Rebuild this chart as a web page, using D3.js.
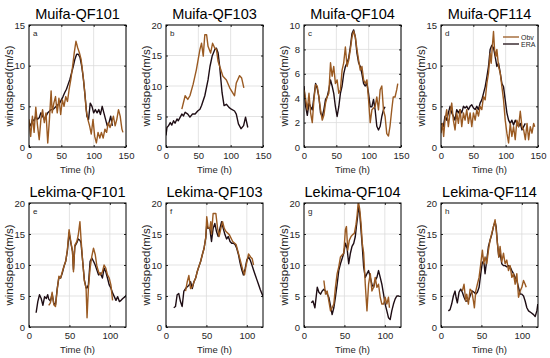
<!DOCTYPE html>
<html>
<head>
<meta charset="utf-8">
<script src="https://cdn.jsdelivr.net/npm/d3@7"></script>
<style>
  body { margin: 0; background: #fff; }
  text { font-family: "Liberation Sans", Arial, sans-serif; }
</style>
</head>
<body>
<div id="chart"></div>
<script>
// time (h), windspeed (m/s)
const obvMuifa101 = [[0,3.4],[2.6,1.3],[5.3,3.8],[7.9,1.8],[10.5,4.9],[13.2,2.6],[15.8,0.9],[18.4,3.4],[21,4.6],[23.7,3],[26.3,4.2],[29,0.5],[31.6,3.4],[34.2,6.9],[35.8,4.2],[38.4,5.4],[41,6.2],[43.7,4.2],[46.3,6],[49,4],[51.6,5.8],[54.2,5],[56.8,6.2],[59.5,5.6],[62.1,7.1],[64.7,8.3],[67.4,9.9],[70,11.6],[72.6,13],[75.3,12.2],[77.9,11.6],[80.5,10.8],[83.2,9.1],[85.8,7.1],[88.4,4.6],[91,3.4],[93.7,2.6],[96.3,1.6],[99,3.4],[101.6,1.3],[104.2,0.5],[106.8,1.8],[109.5,1.1],[112,1.8],[114.7,1.1],[117.4,2.2],[120,1.8],[122.6,3],[125.3,2.4],[127.9,3],[130.5,3.8],[133.2,2.6],[135.8,3.4],[138.4,4.6],[141,3.8],[143.7,2.2],[145.3,1.8]];
const eraMuifa101 = [[0,3],[2.6,2.6],[5.3,3.4],[7.9,3.2],[10.5,3.8],[13.2,3.4],[15.8,3.6],[18.4,4.2],[21,3.8],[23.7,3.4],[26.3,3.8],[29,4.2],[31.6,4.4],[34.2,4.6],[36.8,4.6],[39.5,4.8],[42.1,5],[44.7,5.2],[47.4,5.4],[50,5.8],[52.6,6.2],[55.3,6.7],[57.9,7.1],[60.5,7.7],[63.2,8.3],[65.8,9.1],[68.4,9.9],[71,10.8],[73.7,11.4],[76.3,11.4],[78.9,11],[81.6,9.9],[84.2,8.3],[86.8,6.2],[89.5,3.8],[92.1,3.4],[94.7,5.4],[97.4,5],[100,4.2],[102.6,4.6],[105.3,4.2],[107.9,4.6],[110.5,4],[113.2,5],[115.8,4.2],[118.4,3.4],[121,2.6],[123.7,3],[126.3,3.8],[128.9,2.6]];

const obvMuifa103 = [[24.5,6.2],[29.6,8.4],[33.7,7.8],[37,8.4],[42,10.3],[47,12.7],[52.5,16],[55,17],[57.6,14.9],[60,18.4],[62.8,18.4],[65,16.5],[69,15.4],[72,17],[75.5,16.2],[78,16],[80.6,14],[84.7,12.7],[88,11.6],[93.4,11],[98.5,9.7],[106,8.4],[108.7,10.5],[113.8,11.7],[117,11.3],[120.4,9.7]];
const eraMuifa103 = [[0,1.9],[1.5,3.2],[4,3.5],[6.6,4],[9,3.6],[11.7,4.3],[14,3.9],[17,4.6],[19,4.3],[22,4.9],[24.5,5.4],[27,5.1],[29.6,5.7],[33.7,5.4],[37,4.9],[41,5.4],[45,5.4],[49,5.9],[52.5,6.2],[55,6.8],[60,8.4],[65,11],[68,13.2],[71.4,14.9],[75.5,16],[78,16.2],[80.6,15.4],[83,13.2],[86.7,8.9],[89.8,6.8],[93.4,7],[97.4,6.5],[101,6.2],[106,5.9],[108.7,5.4],[112,3.8],[116,3],[120,3.5],[123,4.9],[126.5,3.2]];

const obvMuifa104 = [[0,4.7],[2.6,3.9],[5.1,3.05],[7.7,4.4],[10.2,2.8],[12.8,2],[15.4,3.9],[17.9,5.1],[20.5,5],[23,4.1],[25.6,3.05],[28.2,2.2],[30.7,2.6],[33.3,3.6],[35.8,4.1],[38.4,4.4],[41,6.9],[43.5,5.8],[46,6.6],[48.6,5.2],[51.2,5.5],[53.8,4.4],[56.3,4.7],[58.9,6.3],[61.4,6.9],[64,8.2],[66.6,6.6],[69.1,7.1],[71.7,8],[74.2,9],[76.8,9.5],[79.4,9],[81.9,8],[84.5,7.1],[87,6.3],[89.6,6.6],[92.2,5.5],[94.7,5.2],[97.3,5.5],[99.8,3.9],[102.4,2],[105,3.05],[107.5,3.2],[110,3.3],[112.6,4.1],[115.2,3.05],[117.8,4.7],[120.3,5],[122.9,3.05],[125.4,2.5],[128,1.1],[130.6,0.9],[133,1.7],[135.7,3.05],[138,4.1],[140.8,4.1],[143.4,4.7],[145,5.2]];
const eraMuifa104 = [[0,5],[2.6,3.3],[5.1,2.6],[7.7,3.6],[10.2,3.3],[12.8,3.05],[15.4,4.1],[17.9,5.2],[20.5,4.8],[23,4.1],[25.6,2.8],[28.2,2.5],[30.7,3.05],[33.3,3.9],[35.8,4.1],[38.4,4.7],[41,5.5],[43.5,5],[46,4.4],[48.6,3.3],[51.2,2.5],[53.8,3.3],[56.3,4.4],[58.9,5],[61.4,6],[64,6.6],[66.6,6.9],[69.1,7.3],[71.7,8.2],[74.2,9.3],[76.8,9.6],[79.4,9],[81.9,7.7],[84.5,6.9],[87,6.6],[89.6,6],[92.2,5.2],[94.7,5],[97.3,5.2],[99.8,4.4],[102.4,3.3],[105,3.3],[107.5,3.9],[110,3.05],[112.6,1.7],[115.2,1.4],[117.8,1.7],[120.3,2.5],[122.9,3.05],[125.4,3.3]];

const obvMuifa114 = [[0,1.7],[2.1,2.9],[4.1,1.3],[6.2,3.3],[8.8,4.6],[11.4,2.5],[14,4.2],[16.6,5.4],[19.1,3.3],[21.7,2.1],[24.3,4.2],[26.9,2.9],[29.5,4.6],[32.1,2.5],[34.7,4.2],[37.2,3.3],[39.8,4.6],[42.4,2.9],[45,4.2],[47.6,2.5],[50.2,4.2],[52.8,3.3],[55.4,4.6],[57.9,3.8],[60.5,5],[63.1,4.6],[65.7,6.2],[68.3,5.8],[70.9,7.8],[73.5,9.1],[76,11.5],[77.6,10.3],[79.7,12.7],[81.2,14.2],[82.8,12],[84.8,11.1],[86.4,12],[89,9.9],[91.6,9.1],[94.2,7.4],[96.7,5.8],[99.3,3.3],[101.9,1.7],[104.5,0.5],[107.1,2.9],[109.6,1.3],[112.2,2.5],[114.8,0.9],[117.4,3.3],[120,2.5],[122.6,4.4],[125.2,2.5],[127.8,2.1],[130.4,0.9],[133,2.9],[135.5,0.9],[138.1,2.5],[140.7,1.7],[143.3,2.9],[144.9,2.5]];
const eraMuifa114 = [[0,2.9],[3.6,2.5],[6.2,3.8],[8.8,3.3],[11.4,4.2],[14,5],[16.6,4.2],[19.1,3.8],[21.7,3.3],[24.3,4.6],[26.9,4.2],[29.5,4.6],[32.1,4.2],[34.7,5],[37.2,4.8],[39.8,5],[42.4,4.6],[45,5],[47.6,5.2],[50.2,4.8],[52.8,4.6],[55.4,5],[57.9,4.6],[60.5,5.4],[63.1,5.8],[65.7,6.6],[68.3,7.4],[70.9,8.6],[73.5,9.9],[76,12],[78.6,12.5],[81.2,12.2],[83.8,11.1],[86.4,9.9],[89,10.3],[91.6,9.1],[94.2,7.8],[96.7,7.4],[99.3,5.8],[101.9,4.2],[104.5,3.3],[107.1,2.9],[109.6,3.3],[112.2,2.7],[114.8,3.3],[117.4,2.9],[120,2.5],[122.6,2.9],[125.2,2.1],[127.8,2.5],[130.4,2.9]];

const obvLekima101 = [[24.4,3.5],[26.5,3.9],[28.6,5.6],[30.7,3.6],[32.8,3.3],[34.9,6],[37,8.2],[39.1,7.9],[41.2,8.9],[43.3,9.8],[45.4,10.6],[47.5,12.5],[49.6,15.7],[51.7,13.8],[53.8,12.2],[55,8.9],[56.7,13.2],[59.2,13.8],[60.9,14.8],[63,17],[64.3,14.3],[66.4,10.6],[68.5,7.4],[70.6,6.3],[71.8,1.5],[73.5,6.3],[75.6,9.5],[77.7,11.4],[79.8,12.7],[81.9,11.7],[84,9.8],[86.1,8.9],[88.2,8.4],[90.8,8.9],[92.9,10],[95,9.5],[97.1,8.4],[99.2,7.9],[101.3,6.8],[103.4,4.3]];
const eraLekima101 = [[8.8,2.3],[10.9,4.1],[13,5.2],[15.1,4.6],[17.2,3.5],[19.3,4.9],[21.4,4.6],[23.1,5.2],[24.4,4.5],[26.5,4.2],[28.6,5.3],[30.7,3.8],[32.8,3.6],[34.9,6.2],[37,8],[39.1,7.9],[41.2,8.7],[43.3,9.8],[45.4,10.6],[47.5,12.3],[49.6,15.2],[51.7,13.6],[53.8,12.2],[55,9.3],[56.7,13],[59.2,13.6],[60.9,14.2],[63,14],[64.3,13.6],[66.4,10.6],[68.5,7.6],[70.6,6.3],[71.8,6.3],[73.5,6.8],[75.6,10.6],[77.7,11.1],[79.8,10.6],[81.9,10],[84,9.2],[86.1,8.4],[88.2,8.7],[90.8,7.9],[92.9,9.5],[95,8.9],[97.1,7.9],[99.2,6.8],[101.3,6.3],[103.4,5.5],[105.5,4.9],[107.6,4.3],[109.7,4.9],[111.8,4.1],[113.9,4.3],[116,4.6],[118.9,4.9],[121,5.2]];

const obvLekima103 = [[24.2,5.8],[26.3,7.3],[28.3,8.3],[30.4,6.2],[32.5,6.5],[34.6,7.3],[36.7,7.9],[38.8,9],[40.8,9.8],[42.9,10.6],[45,11.7],[47.1,12.7],[49.2,14.4],[50.4,17.8],[52.1,16],[54.2,15.9],[55.4,17],[56.3,15],[58.3,18.3],[61.7,18.3],[63.8,15.9],[65.8,14.6],[67.9,15.9],[70,17],[72.1,15.9],[74.2,15.4],[78.3,14.9],[82.5,13.8],[86.7,13.3],[90.8,11.3],[95,9.2],[97.1,8.4],[99.2,10],[102.1,11.8],[104.6,11.3],[106.7,11],[108.3,10]];
const eraLekima103 = [[9.6,3.1],[11.7,3.3],[13.8,5.2],[15.8,5.4],[17.9,4.1],[20,3.3],[22.1,5.8],[24.2,6.2],[26.3,6.5],[28.3,6.7],[30.4,7.3],[32.5,6.2],[34.6,7.3],[36.7,7.9],[38.8,9],[40.8,9.8],[42.9,10.6],[45,11.7],[47.1,12.7],[49.2,14.4],[50.4,16.5],[52.1,15.9],[54.2,15.9],[56.3,13.8],[58.3,15.9],[60.4,16.7],[62.5,15.4],[64.6,14.6],[66.7,15.9],[68.8,17],[70.8,15.9],[72.9,14.9],[75,14.2],[77.1,14.6],[79.2,13.8],[81.3,13.5],[83.3,13.5],[85.4,13.3],[87.5,12.7],[89.6,11.7],[91.7,10.3],[93.8,9.2],[95.8,8.4],[97.9,9.4],[100,10.8],[102.1,11.3],[104.2,10.8],[106.3,10],[108.3,9.2],[110.4,8.4],[112.5,7.6],[114.6,6.8],[116.7,6],[119.2,5.2],[121.3,4.6]];

const obvLekima104 = [[24.6,7.5],[26.6,5.3],[28.7,5.8],[30.7,4.2],[32.8,2.6],[34.8,3.1],[36.9,3.7],[38.9,6.4],[41,8.6],[43,9.7],[45.1,11.3],[47.1,11.6],[49.2,11.9],[51.2,15.7],[52.5,16.2],[54.1,12.4],[56.1,14],[58.2,14.6],[60.2,14.9],[62.3,15.1],[64.3,16.5],[65.6,17.9],[67.2,20.3],[68.9,19],[70.5,16.8],[72.1,13.5],[73.8,11.9],[75.8,6.9],[77.9,2.6],[79.9,6.9],[82,8.6],[84,5.8],[86.1,6.4],[88.1,8],[90.2,6.4],[92.2,6.9],[94.3,4.8],[96.3,3.7],[98.4,3.7],[100.4,4.8],[102.5,3.7],[104.5,4.8],[105.7,3.1]];
const eraLekima104 = [[9,3.9],[11.1,4.2],[13.5,3.1],[16.4,6.4],[18.4,5.6],[20.5,5.3],[22.5,5.8],[24.6,6.1],[26.6,5.8],[28.7,5.3],[30.7,4.8],[32.8,3.4],[34.8,2],[36.9,3.1],[38.9,4.8],[41,6.9],[43,9.1],[45.1,10.2],[47.1,11],[49.2,11.9],[51.2,13.5],[53.3,12.7],[55.3,10.2],[57.4,11.9],[59.4,13],[61.5,13.5],[63.5,14.6],[64.8,16.2],[66.4,17.9],[67.6,19.5],[68.9,18.4],[70.5,15.7],[72.1,13],[73.8,9.7],[75.8,8],[77.9,8.6],[79.9,9.1],[82,8],[84,6.9],[86.1,6.4],[88.1,7.5],[90.2,8],[92.2,9.1],[94.3,8],[96.3,6.9],[98.4,5.3],[100.4,3.7],[102.5,2.6],[104.5,1.5],[106.6,1.2],[108.6,2.6],[110.7,3.7],[112.7,4.5],[114.8,5],[118,5]];

const obvLekima114 = [[26.4,5.8],[28.5,6.9],[30.6,4.2],[31.8,5.3],[33.9,3.7],[36,6.1],[38,5.8],[40.1,4.2],[41.3,3.1],[43,5.8],[45,6.9],[47.1,8],[49.2,10.2],[51.2,12.4],[52.9,10.2],[54.5,11.3],[56.6,10.2],[58.7,12.4],[60.7,14],[62.8,15.1],[64.9,16.2],[66.9,17.3],[68.2,15.7],[69.8,13.5],[71.5,11.3],[73.1,13],[75.2,10.5],[77.3,11.9],[79.3,10.2],[81.4,10.8],[83.5,9.1],[85.5,9.9],[87.6,8],[89.7,8.6],[91.7,6.9],[93.8,8.6],[95.9,4.8],[97.9,5.8],[100,6.4],[102.1,7.5],[104.1,6.9],[105.4,6.4]];
const eraLekima114 = [[9.1,2.6],[11.2,2.8],[13.2,3.7],[15.3,5],[17.4,5.8],[18.6,4.8],[20.2,3.9],[22.3,5.6],[24.4,6.1],[26.4,5.6],[28.5,4.8],[30.6,4.2],[32.6,4.2],[34.7,4.5],[36.8,5.3],[38.8,5.8],[40.9,5.6],[43,5.3],[45,5.6],[47.1,6.4],[49.2,8.6],[51.2,10.5],[53.3,10.2],[54.5,8.6],[56.6,10.8],[58.7,13],[60.7,14],[62.8,14.9],[64.9,16.2],[66.9,17],[68.2,16.2],[69.8,13.5],[71.5,11.3],[73.1,11.9],[75.2,10.2],[77.3,9.9],[79.3,9.9],[81.4,9.7],[83.5,9.9],[85.5,9.7],[87.6,9.1],[89.7,8.6],[91.7,8],[93.8,7.5],[95.9,6.4],[97.9,5.3],[100,5.3],[102.1,5],[104.1,4.2],[106.2,3.1],[108.3,2.6],[111.6,2.3],[114.5,2],[116.5,1.7],[118.6,2.6],[119.8,3.7]];

const titles = ['Muifa-QF101','Muifa-QF103','Muifa-QF104','Muifa-QF114',
                'Lekima-QF101','Lekima-QF103','Lekima-QF104','Lekima-QF114'];
const tags = ['a','b','c','d','e','f','g','h'];
const xTicksMuifa = [0, 50, 100, 150];
const xTicksLekima = [0, 50, 100];
const yTicks15 = [0, 5, 10, 15];
const yTicks20 = [0, 5, 10, 15, 20];
const yTicks10 = [0, 2, 4, 6, 8, 10];
const seriesNames = ['Obv', 'ERA'];

const panels = [
  {obv: obvMuifa101, era: eraMuifa101, xMax: 150, xTicks: xTicksMuifa, yMax: 15, yTicks: yTicks15},
  {obv: obvMuifa103, era: eraMuifa103, xMax: 150, xTicks: xTicksMuifa, yMax: 20, yTicks: yTicks20},
  {obv: obvMuifa104, era: eraMuifa104, xMax: 150, xTicks: xTicksMuifa, yMax: 10, yTicks: yTicks10},
  {obv: obvMuifa114, era: eraMuifa114, xMax: 150, xTicks: xTicksMuifa, yMax: 15, yTicks: yTicks15},
  {obv: obvLekima101, era: eraLekima101, xMax: 120, xTicks: xTicksLekima, yMax: 20, yTicks: yTicks20},
  {obv: obvLekima103, era: eraLekima103, xMax: 120, xTicks: xTicksLekima, yMax: 20, yTicks: yTicks20},
  {obv: obvLekima104, era: eraLekima104, xMax: 120, xTicks: xTicksLekima, yMax: 20, yTicks: yTicks20},
  {obv: obvLekima114, era: eraLekima114, xMax: 120, xTicks: xTicksLekima, yMax: 20, yTicks: yTicks20}
];

const obvColor = '#9a5a22';
const eraColor = '#1e0d14';

const svg = d3.select('#chart').append('svg')
  .attr('width', 550)
  .attr('height', 358);

const colLeft = [29, 166, 304, 441];
const plotW = 97;
const rows = [{top: 25, bottom: 147}, {top: 203, bottom: 327}];

panels.forEach((p, k) => {
  const row = rows[Math.floor(k / 4)];
  const left = colLeft[k % 4];
  const x = d3.scaleLinear().domain([0, p.xMax]).range([left, left + plotW]);
  const y = d3.scaleLinear().domain([0, p.yMax]).range([row.bottom, row.top]);
  const g = svg.append('g').attr('class', 'panel');

  g.append('clipPath').attr('id', 'clip' + k)
    .append('rect')
    .attr('x', left).attr('y', row.top)
    .attr('width', plotW).attr('height', row.bottom - row.top);

  // grid
  g.selectAll('.vgrid').data(p.xTicks).enter().append('line')
    .attr('x1', d => x(d)).attr('x2', d => x(d))
    .attr('y1', row.top).attr('y2', row.bottom)
    .attr('stroke', '#dcdcdc').attr('stroke-width', 0.8);
  g.selectAll('.hgrid').data(p.yTicks).enter().append('line')
    .attr('x1', left).attr('x2', left + plotW)
    .attr('y1', d => y(d)).attr('y2', d => y(d))
    .attr('stroke', '#dcdcdc').attr('stroke-width', 0.8);

  const line = d3.line().x(d => x(d[0])).y(d => y(d[1]));
  const lines = g.append('g').attr('clip-path', 'url(#clip' + k + ')');
  lines.append('path').datum(p.era)
    .attr('d', line).attr('fill', 'none')
    .attr('stroke', eraColor).attr('stroke-width', 1.4)
    .attr('stroke-linejoin', 'round');
  lines.append('path').datum(p.obv)
    .attr('d', line).attr('fill', 'none')
    .attr('stroke', obvColor).attr('stroke-width', 1.4)
    .attr('stroke-linejoin', 'round');

  // axes, ticks pointing inward (also mirrored on top / right like a boxed plot)
  const xAxis = g.append('g').attr('transform', `translate(0,${row.bottom})`)
    .call(d3.axisBottom(x).tickValues(p.xTicks).tickSize(-2).tickPadding(5));
  const yAxis = g.append('g').attr('transform', `translate(${left},0)`)
    .call(d3.axisLeft(y).tickValues(p.yTicks).tickSize(-2).tickPadding(4));
  const xTop = g.append('g').attr('transform', `translate(0,${row.top})`)
    .call(d3.axisTop(x).tickValues(p.xTicks).tickSize(-2).tickFormat(''));
  const yRight = g.append('g').attr('transform', `translate(${left + plotW},0)`)
    .call(d3.axisRight(y).tickValues(p.yTicks).tickSize(-2).tickFormat(''));
  [xAxis, yAxis, xTop, yRight].forEach(a => {
    a.select('.domain').remove();
    a.selectAll('text').attr('font-size', 9.5).attr('fill', '#262626')
      .attr('font-family', '"Liberation Sans", Arial, sans-serif');
    a.selectAll('line').attr('stroke', '#262626');
  });

  g.append('rect')
    .attr('x', left).attr('y', row.top)
    .attr('width', plotW).attr('height', row.bottom - row.top)
    .attr('fill', 'none').attr('stroke', '#000').attr('stroke-width', 1);

  g.append('text')
    .attr('x', left + plotW / 2).attr('y', row.top - 6)
    .attr('text-anchor', 'middle').attr('font-size', 14.5)
    .text(titles[k]);

  g.append('text')
    .attr('x', left + 4).attr('y', row.top + 11)
    .attr('font-size', 8).attr('fill', '#262626')
    .text(tags[k]);

  g.append('text')
    .attr('x', left + plotW / 2).attr('y', row.bottom + 26)
    .attr('text-anchor', 'middle').attr('font-size', 9.5).attr('fill', '#262626')
    .text('Time (h)');

  g.append('text')
    .attr('transform', `translate(${left - 16},${(row.top + row.bottom) / 2}) rotate(-90)`)
    .attr('text-anchor', 'middle').attr('font-size', 11.5).attr('fill', '#262626')
    .text('windspeed(m/s)');

  if (k === 3) {
    const legend = g.append('g');
    seriesNames.forEach((name, i) => {
      const ly = row.top + 12 + i * 7;
      legend.append('line')
        .attr('x1', left + plotW - 35).attr('x2', left + plotW - 19)
        .attr('y1', ly).attr('y2', ly)
        .attr('stroke', i === 0 ? obvColor : eraColor).attr('stroke-width', 1.3);
      legend.append('text')
        .attr('x', left + plotW - 17).attr('y', ly + 2.5)
        .attr('font-size', 7).attr('fill', '#262626')
        .text(name);
    });
  }
});
</script>
</body>
</html>
